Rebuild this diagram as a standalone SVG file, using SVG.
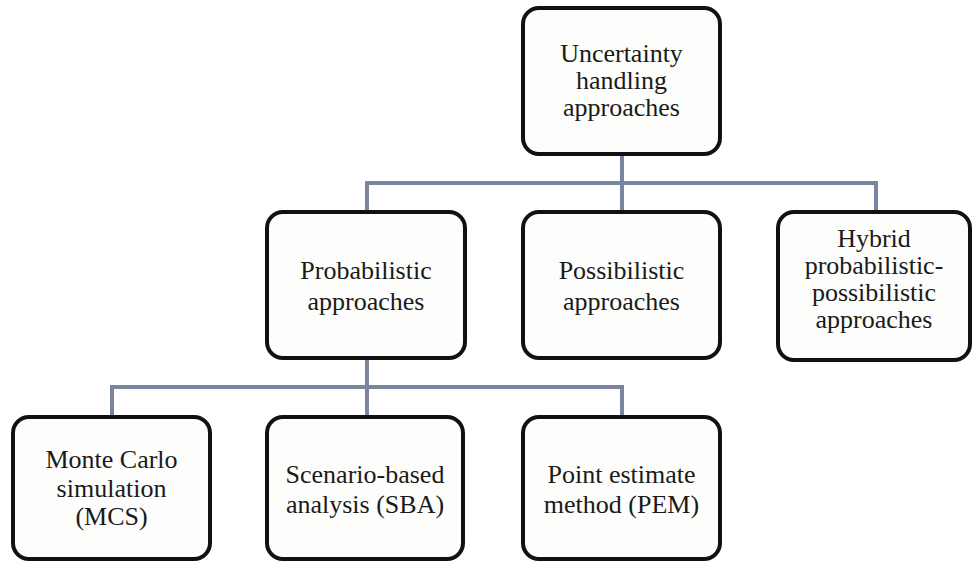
<svg xmlns="http://www.w3.org/2000/svg" width="972" height="563" viewBox="0 0 972 563">
<style>
.box{fill:#fdfdfb;stroke:#111;stroke-width:4}
.t{font-family:'Liberation Serif','Times New Roman',Times,'DejaVu Serif',serif;font-size:26px;fill:#1a1a1a;text-anchor:middle}
.c{fill:none;stroke:#7a859f;stroke-width:4}
</style>
<rect width="972" height="563" fill="#ffffff"/>
<g id="connectors">
<line class="c" x1="622" y1="154" x2="622" y2="212"/>
<polyline class="c" points="367,212 367,183 876,183 876,212"/>
<line class="c" x1="367" y1="358" x2="367" y2="417"/>
<polyline class="c" points="112,417 112,387 622,387 622,417"/>
</g>
<g id="n-root">
<rect class="box" x="523" y="8" width="197" height="146" rx="16"/>
<text class="t" font-family="Liberation Serif, serif" x="621.5" y="62">Uncertainty</text>
<text class="t" font-family="Liberation Serif, serif" x="621.5" y="89">handling</text>
<text class="t" font-family="Liberation Serif, serif" x="621.5" y="116">approaches</text>
</g>
<g id="n-prob">
<rect class="box" x="267" y="212" width="198" height="146" rx="16"/>
<text class="t" x="366" y="279">Probabilistic</text>
<text class="t" x="366" y="310">approaches</text>
</g>
<g id="n-poss">
<rect class="box" x="523" y="212" width="197" height="146" rx="16"/>
<text class="t" x="621.5" y="279">Possibilistic</text>
<text class="t" x="621.5" y="310">approaches</text>
</g>
<g id="n-hybrid">
<rect class="box" x="778" y="212" width="192" height="148" rx="16"/>
<text class="t" x="874" y="247">Hybrid</text>
<text class="t" x="874" y="274">probabilistic-</text>
<text class="t" x="874" y="301">possibilistic</text>
<text class="t" x="874" y="328">approaches</text>
</g>
<g id="n-mcs">
<rect class="box" x="13" y="417" width="197" height="142" rx="16"/>
<text class="t" x="111.5" y="468">Monte Carlo</text>
<text class="t" x="111.5" y="497">simulation</text>
<text class="t" x="111.5" y="525">(MCS)</text>
</g>
<g id="n-sba">
<rect class="box" x="267" y="417" width="196" height="142" rx="16"/>
<text class="t" x="365" y="483">Scenario-based</text>
<text class="t" x="365" y="513">analysis (SBA)</text>
</g>
<g id="n-pem">
<rect class="box" x="523" y="417" width="197" height="142" rx="16"/>
<text class="t" x="621.5" y="483">Point estimate</text>
<text class="t" x="621.5" y="513">method (PEM)</text>
</g>
</svg>
